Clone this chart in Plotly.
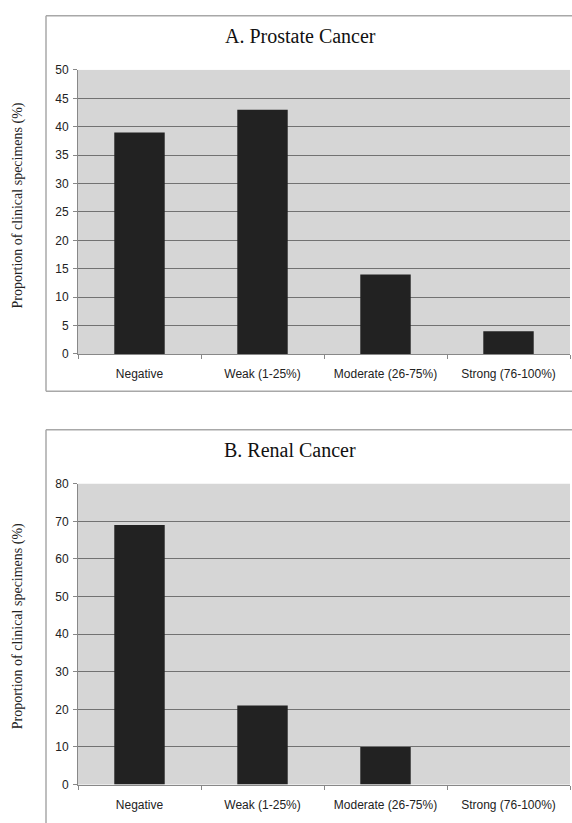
import plotly.graph_objects as go

categories = ["Negative", "Weak (1-25%)", "Moderate (26-75%)", "Strong (76-100%)"]
prostate_values = [39, 43, 14, 4]
renal_values = [69, 21, 10, 0]
prostate_ticks = [0, 5, 10, 15, 20, 25, 30, 35, 40, 45, 50]
renal_ticks = [0, 10, 20, 30, 40, 50, 60, 70, 80]

W, H = 572, 823

def px(x):
    return x / W

def py(y):
    return 1 - y / H

fig = go.Figure()
fig.add_trace(go.Bar(x=categories, y=prostate_values, marker=dict(color="#222222", line=dict(width=0)),
                     width=0.41, xaxis="x", yaxis="y", showlegend=False))
fig.add_trace(go.Bar(x=categories, y=renal_values, marker=dict(color="#222222", line=dict(width=0)),
                     width=0.41, xaxis="x2", yaxis="y2", showlegend=False))

tickfont = dict(family="Liberation Sans, Arial, sans-serif", size=12, color="#222")
xcommon = dict(type="category", tickson="boundaries", ticks="outside", ticklen=4, tickcolor="#888",
               showline=True, linecolor="#888", linewidth=1, showgrid=False, tickfont=tickfont,
               ticklabelstandoff=9)
ycommon = dict(ticks="outside", ticklen=4, tickcolor="#888", showline=True, linecolor="#888",
               linewidth=1, showgrid=True, gridcolor="#727272", gridwidth=1, zeroline=False,
               tickfont=tickfont, ticklabelstandoff=2)

fig.update_layout(
    width=W, height=H,
    margin=dict(l=0, r=0, t=0, b=0),
    paper_bgcolor="white",
    plot_bgcolor="#d6d6d6",
    bargap=0.59,
    xaxis=dict(domain=[px(78), px(570)], anchor="y", **xcommon),
    yaxis=dict(domain=[py(353), py(64)], anchor="x", range=[0, 50], tickvals=prostate_ticks, **ycommon),
    xaxis2=dict(domain=[px(78), px(570)], anchor="y2", **xcommon),
    yaxis2=dict(domain=[py(791), py(485)], anchor="x2", range=[0, 80], tickvals=renal_ticks, **ycommon),
)

border = dict(color="#a8a8a8", width=1.5)
shapes = [
    # Box A
    dict(type="line", xref="paper", yref="paper", x0=px(46), x1=px(580), y0=py(9), y1=py(9), line=border),
    dict(type="line", xref="paper", yref="paper", x0=px(46), x1=px(46), y0=py(9), y1=py(391), line=border),
    dict(type="line", xref="paper", yref="paper", x0=px(46), x1=px(580), y0=py(391), y1=py(391), line=border),
    # Box B
    dict(type="line", xref="paper", yref="paper", x0=px(46), x1=px(580), y0=py(430), y1=py(430), line=border),
    dict(type="line", xref="paper", yref="paper", x0=px(46), x1=px(46), y0=py(430), y1=py(830), line=border),
]
fig.update_layout(shapes=shapes)

serif = "Liberation Serif, Times New Roman, serif"
annotations = [
    dict(text="A. Prostate Cancer", x=px(300), y=py(29), xref="paper", yref="paper",
         showarrow=False, font=dict(family=serif, size=20, color="#111"), xanchor="center", yanchor="middle"),
    dict(text="B. Renal Cancer", x=px(290), y=py(451), xref="paper", yref="paper",
         showarrow=False, font=dict(family=serif, size=20, color="#111"), xanchor="center", yanchor="middle"),
    dict(text="Proportion of clinical specimens (%)", x=px(18), y=py(202), xref="paper", yref="paper",
         showarrow=False, textangle=-90, font=dict(family=serif, size=14, color="#222"),
         xanchor="center", yanchor="middle"),
    dict(text="Proportion of clinical specimens (%)", x=px(18), y=py(630), xref="paper", yref="paper",
         showarrow=False, textangle=-90, font=dict(family=serif, size=14, color="#222"),
         xanchor="center", yanchor="middle"),
]
fig.update_layout(annotations=annotations)

fig.write_html("out.html", config={"displayModeBar": False},
               post_script="document.body.style.margin='0';document.body.style.padding='0';")
